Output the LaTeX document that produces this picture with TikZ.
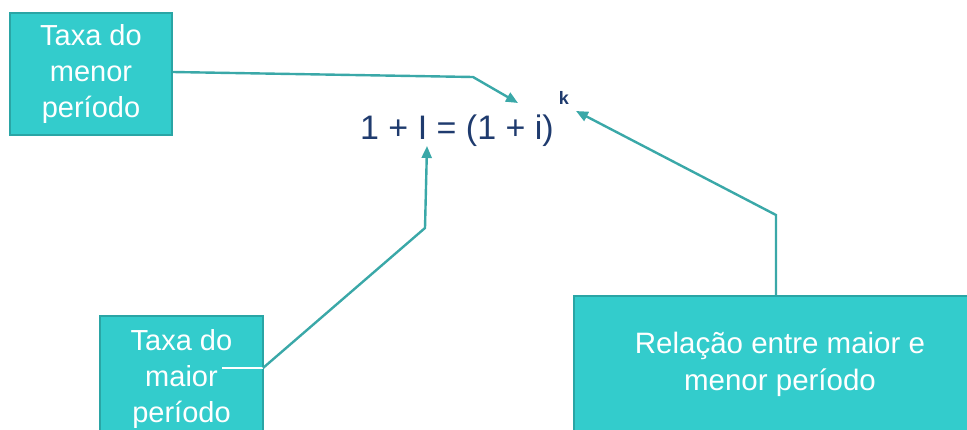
\documentclass[tikz,border=0pt]{standalone}
\usepackage{fontspec}
\setmainfont{Liberation Sans}
\usetikzlibrary{positioning}
\usetikzlibrary{arrows.meta}
\definecolor{boxfill}{HTML}{33CCCC}
\definecolor{boxline}{HTML}{2AA5A5}
\definecolor{linkcol}{HTML}{3AA8A8}
\definecolor{navy}{HTML}{1F3B6E}
\tikzset{taxabox/.style = {draw=boxline, fill=boxfill, line width=1.8pt, text=white, align=center,
    font=\fontsize{29}{36}\selectfont, inner sep=0}}
\tikzset{link/.style = {draw=linkcol, line width=2.4pt, -{Triangle[length=12pt,width=10pt]}}}
\tikzset{
  every picture/.style={
    x=1pt, y=-1pt,
  }
}

\begin{document}
\begin{tikzpicture}
      \useasboundingbox (0,0) rectangle (967,429);
      \clip (0,0) rectangle (967,429);
      \node[taxabox, minimum width=162, minimum height=122] (menor) at (91,74) {Taxa do\\menor\\período};
      \node[taxabox, minimum width=163, minimum height=126] (maior) at (181.5,379) {};
      \node[text=white, align=center, font=\fontsize{29}{36}\selectfont] (maiortxt) at (181.5,379) {Taxa do\\maior\\período};
      \node[taxabox, minimum width=412, minimum height=136, font=\fontsize{29.5}{37}\selectfont] (rel) at (780,364) {Relação entre maior e\\menor período};
      \node[text=navy, font=\fontsize{34}{40}\selectfont, inner sep=0] (eq) at (457,131) {1 + I = (1 + i)};
      \node[text=navy, font=\fontsize{18}{22}\selectfont\bfseries, inner sep=0] (k) at (564,98) {k};
      \coordinate (a1) at (473,77);
      \coordinate (t1) at (518,103);
      \coordinate (s2) at (222,368);
      \coordinate (m2) at (263,368);
      \coordinate (a2) at (425,228);
      \coordinate (t2) at (427,146);
      \coordinate (a3) at (776,215);
      \coordinate (t3) at (576,111);
      \draw[link] (menor.east |- 0,72) -- (a1) -- (t1);
      \draw[white, line width=2.2pt] (s2) -- (m2);
      \draw[link] (m2) -- (a2) -- (t2);
      \draw[link] (rel.north -| a3) -- (a3) -- (t3);
    \end{tikzpicture}
\end{document}
